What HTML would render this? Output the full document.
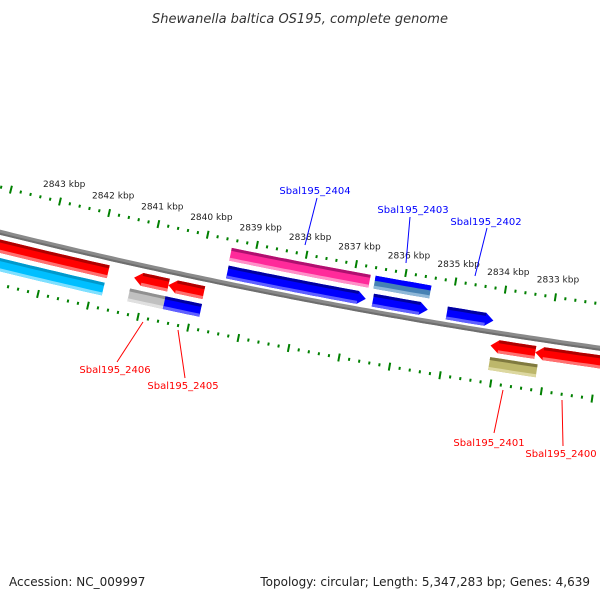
<!DOCTYPE html>
<html><head><meta charset="utf-8"><style>
html,body{margin:0;padding:0;background:#fff;}
svg{display:block;}
text{font-family:"DejaVu Sans","Liberation Sans",sans-serif;}
</style></head><body>
<svg id="map" width="600" height="600" viewBox="0 0 600 600" xmlns="http://www.w3.org/2000/svg">
<rect width="600" height="600" fill="#fff"/>
<text x="300" y="23" text-anchor="middle" font-size="13" font-style="italic" fill="#333">Shewanella baltica OS195, complete genome</text>
<g id="ticks"></g>
<g id="backbone"></g>
<g id="features"></g>
<g id="labels">
<line x1="317" y1="198" x2="305" y2="245" stroke="#00f"/>
<text x="315" y="194" text-anchor="middle" font-size="10" fill="#00f">Sbal195_2404</text>
<line x1="410" y1="217" x2="406" y2="263" stroke="#00f"/>
<text x="413" y="213" text-anchor="middle" font-size="10" fill="#00f">Sbal195_2403</text>
<line x1="487" y1="228" x2="475" y2="276" stroke="#00f"/>
<text x="486" y="225" text-anchor="middle" font-size="10" fill="#00f">Sbal195_2402</text>
<line x1="143" y1="322" x2="117" y2="362" stroke="#f00"/>
<text x="115" y="373" text-anchor="middle" font-size="10" fill="#f00">Sbal195_2406</text>
<line x1="178" y1="330" x2="185" y2="378" stroke="#f00"/>
<text x="183" y="389" text-anchor="middle" font-size="10" fill="#f00">Sbal195_2405</text>
<line x1="503" y1="390" x2="494" y2="433" stroke="#f00"/>
<text x="489" y="446" text-anchor="middle" font-size="10" fill="#f00">Sbal195_2401</text>
<line x1="562" y1="400" x2="563" y2="446" stroke="#f00"/>
<text x="561" y="457" text-anchor="middle" font-size="10" fill="#f00">Sbal195_2400</text>
</g>
<text x="9" y="586" font-size="12" fill="#222">Accession: NC_009997</text>
<text x="590" y="586" text-anchor="end" font-size="12" fill="#222">Topology: circular; Length: 5,347,283 bp; Genes: 4,639</text>
</svg>
<script>
const tickLabels = [2843, 2842, 2841, 2840, 2839, 2838, 2837, 2836, 2835, 2834, 2833];
const featStart = [2846.0, 2841.24, 2840.55, 2834.12, 2833.23, 2846.0, 2841.27, 2840.56, 2834.09, 2839.47, 2836.55, 2835.07, 2839.48, 2836.58];
const featEnd   = [2841.76, 2840.55, 2839.84, 2833.23, 2830.0, 2841.78, 2840.56, 2839.83, 2833.15, 2836.69, 2835.45, 2834.14, 2836.68, 2835.46];
const featSlot  = ['in1','in1','in1','in1','in1','in2','in2','in2','in2','out1','out1','out1','out2','out2'];
const featArrow = ['none','left','left','left','left','none','none','none','none','right','right','right','none','none'];
const featColor = ['red','red','red','red','red','cyan','gray','blue','olive','blue','blue','blue','pink','steel'];

const NS='http://www.w3.org/2000/svg';
const CX=1427, CY=-5541, R=5947, A0=Math.PI/2+0.2337, DA=0.00855;
const slots={out2:[-36,-23],out1:[-18,-5],in1:[7,20],in2:[25,38]};
const pal={red:['#b00000','#ff0000','#ff7070'],cyan:['#0099cc','#00bfff','#80e0ff'],gray:['#909090','#c0c0c0','#e0e0e0'],
 blue:['#0000a0','#0000ff','#6060ff'],olive:['#807a40','#bdb76b','#ddd8a0'],pink:['#b01070','#ff2a9a','#ff90c8'],steel:['#0000ff','#4682b4','#8fb8d8']};
function pt(k,off){const a=A0+(k-2843)*DA, r=R+off;return [CX+r*Math.cos(a), CY+r*Math.sin(a)];}
function arcPts(k1,k2,off){const p=[];const n=Math.max(2,Math.ceil(Math.abs(k1-k2)*8));for(let i=0;i<=n;i++){p.push(pt(k1+(k2-k1)*i/n,off));}return p;}
function poly(pts,fill,g,name){const e=document.createElementNS(NS,'polygon');e.setAttribute('points',pts.map(p=>p[0].toFixed(1)+','+p[1].toFixed(1)).join(' '));e.setAttribute('fill',fill);
 
 
 g.appendChild(e);return e;}
function line(p1,p2,w,col,g,name){const e=document.createElementNS(NS,'line');e.setAttribute('x1',p1[0]);e.setAttribute('y1',p1[1]);e.setAttribute('x2',p2[0]);e.setAttribute('y2',p2[1]);e.setAttribute('stroke',col);e.setAttribute('stroke-width',w);
 
 
 g.appendChild(e);}

// ticks
const tg=document.getElementById('ticks');
for(let i=0;i<=80;i++){const k=2846-i*0.2;const major=Math.abs(k-Math.round(k))<1e-6;
 [-44,51].forEach(o=>{const h=major?4:1.5;line(pt(k,o-h),pt(k,o+h),2,'#008000',tg,major?'major-tick':'minor-tick');});}
tickLabels.forEach(k=>{const p=pt(k,-62);const t=document.createElementNS(NS,'text');t.setAttribute('x',p[0].toFixed(1));t.setAttribute('y',(p[1]+3).toFixed(1));
 t.setAttribute('text-anchor','middle');t.setAttribute('font-size','9');t.setAttribute('fill','#222');t.textContent=k+' kbp';
 
 
 tg.appendChild(t);});

// backbone
const bg=document.getElementById('backbone');
poly(arcPts(2847,2829,-2.5).concat(arcPts(2829,2847,2.5)),'#8a8a8a',bg,'backbone-ring');
poly(arcPts(2847,2829,0.5).concat(arcPts(2829,2847,2.5)),'#6e6e6e',bg,'backbone-shade');

// features
const fg=document.getElementById('features');
const TIP=0.16;
for(let i=0;i<featStart.length;i++){
 const k1=featStart[i],k2=featEnd[i],[r1,r2]=slots[featSlot[i]],c=pal[featColor[i]],ar=featArrow[i],rm=(r1+r2)/2;
 const b1=ar==='left'?k1-TIP:k1, b2=ar==='right'?k2+TIP:k2;
 let pts=arcPts(b1,b2,r1);
 if(ar==='right')pts.push(pt(k2,rm));
 pts=pts.concat(arcPts(b2,b1,r2));
 if(ar==='left')pts.push(pt(k1,rm));
 poly(pts,c[1],fg,'feature-'+featColor[i]);
 poly(arcPts(b1,b2,r1).concat(arcPts(b2,b1,r1+3)),c[0],fg,'feature-top-shade');
 poly(arcPts(b1,b2,r2-3).concat(arcPts(b2,b1,r2)),c[2],fg,'feature-bottom-shade');
 if(featColor[i]==='steel'){poly(arcPts(b1,b2,r1).concat(arcPts(b2,b1,r1+5)),'#0000ff',fg,'feature-overlap-blue');}
}
</script>
</body></html>
